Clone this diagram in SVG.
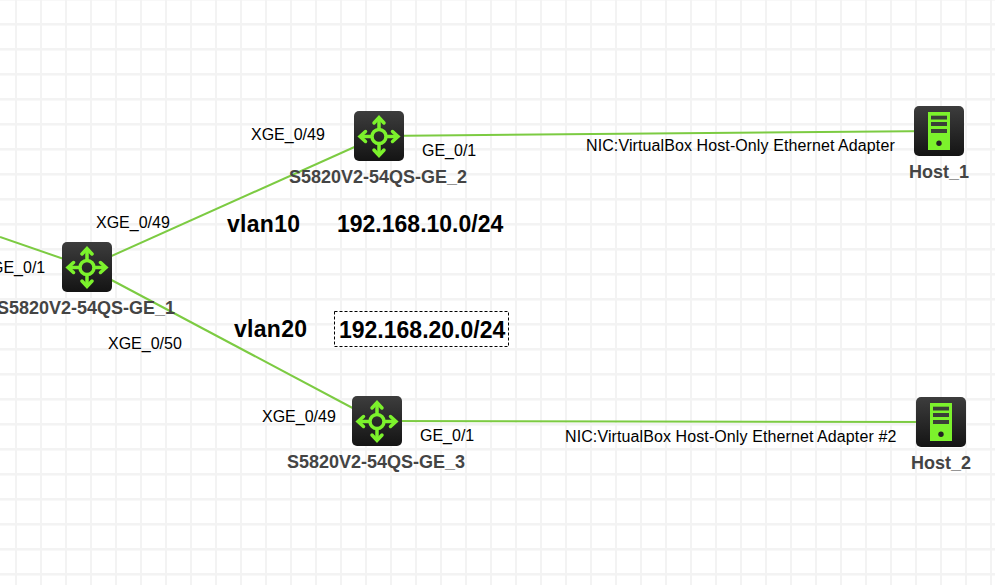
<svg xmlns="http://www.w3.org/2000/svg" width="995" height="585" viewBox="0 0 995 585">
<style>
.t{font-family:"Liberation Sans",Arial,sans-serif;font-size:16px;fill:#000}
.w{letter-spacing:.1px}
.n{font-family:"Liberation Sans",Arial,sans-serif;font-size:18px;font-weight:bold;fill:#444}
.b{font-family:"Liberation Sans",Arial,sans-serif;font-size:23px;font-weight:bold;fill:#000}
.v{letter-spacing:.3px}
.l{stroke:#7ccb42;stroke-width:2;fill:none}
.g{stroke:#7cf22c;fill:none;stroke-width:3.5}
</style>
<defs>
<pattern id="grid" width="25" height="25" patternUnits="userSpaceOnUse" x="0" y="0">
<rect x="15" y="0" width="2" height="25" fill="#f3f3f3"/>
<rect x="0" y="-2" width="25" height="2.600" fill="#f3f3f3"/>
<rect x="0" y="23" width="25" height="2.600" fill="#f3f3f3"/>
</pattern>
<linearGradient id="bg" x1="0" y1="0" x2="0" y2="1"><stop offset="0" stop-color="#3d3d3d"/><stop offset="1" stop-color="#141414"/></linearGradient>
<symbol id="sw" width="50" height="50" viewBox="0 0 50 50" overflow="visible">
<rect width="50" height="50" rx="5" fill="url(#bg)"/>
<circle cx="25" cy="25.500" r="7" class="g" stroke-width="3"/>
<path class="g" d="M25 18V7M25 33V44M18 25.500H7M32 25.500H43"/>
<path class="g" stroke-linecap="round" d="M20 12L25 6.500L30 12M20 39L25 44.500L30 39M11.500 20.500L6 25.500L11.500 30.500M38.500 20.500L44 25.500L38.500 30.500"/>
</symbol>
<symbol id="host" width="50" height="50" viewBox="0 0 50 50" overflow="visible">
<rect width="50" height="50" rx="5" fill="url(#bg)"/>
<rect x="14" y="6" width="22" height="38" fill="#7cf22c"/>
<rect x="17" y="9.700" width="16" height="3.800" fill="#3a3f38"/>
<rect x="17" y="16" width="16" height="4" fill="#3a3f38"/>
<rect x="17" y="23" width="16" height="4" fill="#3a3f38"/>
<circle cx="25" cy="37.300" r="2.700" fill="#222"/>
</symbol>
</defs>
<rect width="995" height="585" fill="#fff"/>
<rect width="995" height="585" fill="url(#grid)"/>
<g id="connectors">
<line class="l" x1="0" y1="237" x2="87" y2="267"/>
<line class="l" x1="87" y1="267" x2="379" y2="136"/>
<line class="l" x1="87" y1="267" x2="377" y2="421"/>
<line class="l" x1="379" y1="136" x2="939" y2="131"/>
<line class="l" x1="377" y1="421" x2="941" y2="422"/>
</g>
<g id="sw1"><use href="#sw" x="62" y="242"/><text class="n" x="-3" y="314">S5820V2-54QS-GE_1</text></g>
<g id="sw2"><use href="#sw" x="354" y="111"/><text class="n" x="289" y="183">S5820V2-54QS-GE_2</text></g>
<g id="sw3"><use href="#sw" x="352" y="396"/><text class="n" x="287" y="468">S5820V2-54QS-GE_3</text></g>
<g id="host1"><use href="#host" x="914" y="106"/><text class="n" x="909" y="178">Host_1</text></g>
<g id="host2"><use href="#host" x="916" y="397"/><text class="n" x="911" y="469">Host_2</text></g>
<g id="labels">
<text class="t" x="-9" y="273">GE_0/1</text>
<text class="t" x="96" y="228">XGE_0/49</text>
<text class="t" x="108" y="349">XGE_0/50</text>
<text class="t" x="251" y="140">XGE_0/49</text>
<text class="t" x="262" y="422">XGE_0/49</text>
<text class="t" x="422" y="156">GE_0/1</text>
<text class="t" x="420" y="441">GE_0/1</text>
<text class="t w" x="586" y="151">NIC:VirtualBox Host-Only Ethernet Adapter</text>
<text class="t w" x="565" y="442">NIC:VirtualBox Host-Only Ethernet Adapter #2</text>
<text class="b v" x="227" y="232">vlan10</text>
<text class="b" x="337" y="232">192.168.10.0/24</text>
<text class="b v" x="234" y="337">vlan20</text>
<rect x="334.500" y="311.500" width="174" height="35" fill="#fff" stroke="#000" stroke-dasharray="3 2"/>
<text class="b" x="339" y="338">192.168.20.0/24</text>
</g>
</svg>
